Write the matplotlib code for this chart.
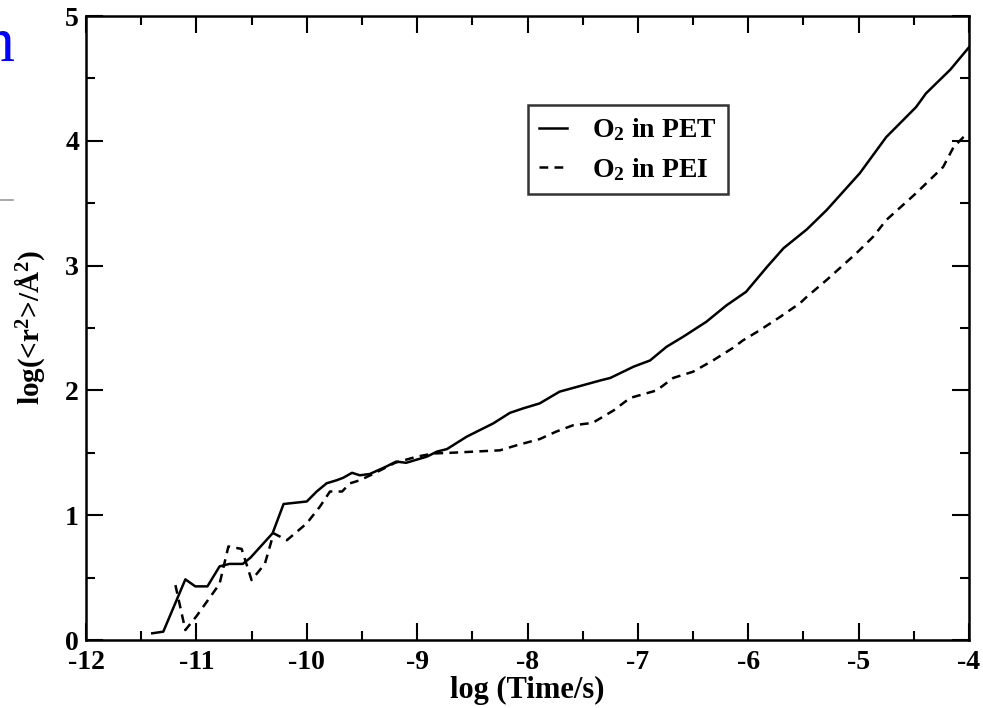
import matplotlib
matplotlib.use('Agg')
import matplotlib.pyplot as plt
from matplotlib.lines import Line2D

# values: log(time/s) vs log(<r^2>/A^2)
pet_x = [-11.40, -11.30, -11.10, -11.01, -10.90, -10.79, -10.70, -10.58, -10.51, -10.31,
         -10.21, -10.00, -9.91, -9.82, -9.73, -9.67, -9.59, -9.52, -9.43, -9.28,
         -9.19, -9.10, -8.91, -8.82, -8.73, -8.55, -8.31, -8.16, -8.04, -7.89,
         -7.71, -7.34, -7.25, -7.04, -6.89, -6.74, -6.59, -6.38, -6.20, -6.02,
         -5.83, -5.68, -5.47, -5.29, -4.99, -4.75, -4.48, -4.39, -4.17, -4.00]
pet_y = [0.054, 0.067, 0.486, 0.43, 0.43, 0.59, 0.61, 0.61, 0.66, 0.855,
         1.09, 1.11, 1.19, 1.256, 1.28, 1.30, 1.34, 1.32, 1.33, 1.39,
         1.43, 1.42, 1.47, 1.51, 1.53, 1.63, 1.736, 1.82, 1.856, 1.896,
         1.99, 2.08, 2.10, 2.19, 2.24, 2.35, 2.43, 2.55, 2.68, 2.79,
         2.99, 3.14, 3.29, 3.445, 3.74, 4.03, 4.27, 4.38, 4.57, 4.75]

pei_x = [-11.19, -11.10, -11.00, -10.79, -10.71, -10.59, -10.50, -10.38, -10.30, -10.18,
         -10.00, -9.88, -9.79, -9.68, -9.61, -9.52, -9.40, -9.20, -9.00, -8.85,
         -8.70, -8.25, -8.10, -7.89, -7.74, -7.59, -7.41, -7.22, -7.07, -6.83,
         -6.68, -6.50, -6.32, -6.14, -6.05, -5.90, -5.71, -5.53, -5.47, -5.29,
         -5.02, -4.87, -4.75, -4.48, -4.235, -4.14, -4.05, -4.02]
pei_y = [0.44, 0.08, 0.19, 0.45, 0.75, 0.73, 0.48, 0.61, 0.855, 0.80,
         0.935, 1.07, 1.19, 1.19, 1.255, 1.28, 1.33, 1.42, 1.47, 1.495,
         1.50, 1.52, 1.56, 1.61, 1.67, 1.72, 1.74, 1.84, 1.94, 2.00,
         2.10, 2.15, 2.24, 2.34, 2.40, 2.48, 2.59, 2.70, 2.75, 2.885,
         3.10, 3.23, 3.365, 3.58, 3.79, 3.95, 4.03, 4.05]

x_ticks = [-12, -11, -10, -9, -8, -7, -6, -5, -4]
y_ticks = [0, 1, 2, 3, 4, 5]

plt.rcParams['font.family'] = ['Liberation Serif', 'DejaVu Serif']
plt.rcParams['font.weight'] = 'bold'
plt.rcParams['axes.unicode_minus'] = False
plt.rcParams['mathtext.fontset'] = 'custom'
plt.rcParams['mathtext.rm'] = 'Liberation Serif:bold'
plt.rcParams['mathtext.it'] = 'Liberation Serif:bold'
plt.rcParams['mathtext.bf'] = 'Liberation Serif:bold'

fig = plt.figure(figsize=(9.83, 7.08), dpi=100)
ax = fig.add_axes([0.0875, 0.096, 0.8983, 0.8814])

ax.plot(pet_x, pet_y, color='black', lw=1.8, label='O$_2$ in PET')
ax.plot(pei_x, pei_y, color='black', lw=1.8, dashes=(3.5, 2.5), label='O$_2$ in PEI')

ax.set_xlim(-12, -4)
ax.set_ylim(0, 5)
ax.set_xticks(x_ticks)
ax.set_yticks(y_ticks)
ax.set_xticks([t + 0.5 for t in x_ticks[:-1]], minor=True)
ax.set_yticks([t + 0.5 for t in y_ticks[:-1]], minor=True)
ax.tick_params(which='both', direction='in', top=True, right=True, width=1.5,
               labelsize=20)
ax.tick_params(which='major', length=12)
ax.tick_params(axis='x', which='major', pad=7)
ax.tick_params(axis='y', which='major', pad=5)
ax.tick_params(which='minor', length=6.5)
for s in ax.spines.values():
    s.set_linewidth(1.8)
for lab in ax.get_xticklabels() + ax.get_yticklabels():
    lab.set_fontweight('bold')

ax.set_xlabel('log (Time/s)', fontsize=22, fontweight='bold', labelpad=1)
ax.set_ylabel('log(<r$^2$>/Å$^2$)', fontsize=21, fontweight='bold', labelpad=13)

leg = ax.legend(loc='upper left', bbox_to_anchor=(0.5006, 0.857), fontsize=20,
                frameon=True, fancybox=False, handlelength=1.0, handletextpad=0.9,
                borderpad=0.4, labelspacing=0.45, borderaxespad=0)
leg.get_frame().set_edgecolor('black')
leg.get_frame().set_linewidth(1.8)
for t in leg.get_texts():
    t.set_fontweight('bold')

# bits of the slide around the chart
fig.text(-17 / 983, 1 - 61 / 708, 'n', color='blue', fontsize=46,
         family='Liberation Serif', fontweight='normal', va='baseline')
fig.add_artist(Line2D([0, 13 / 983], [1 - 200 / 708, 1 - 200 / 708],
                      color='#999999', lw=1.2))

fig.savefig('out.png', dpi=100)
